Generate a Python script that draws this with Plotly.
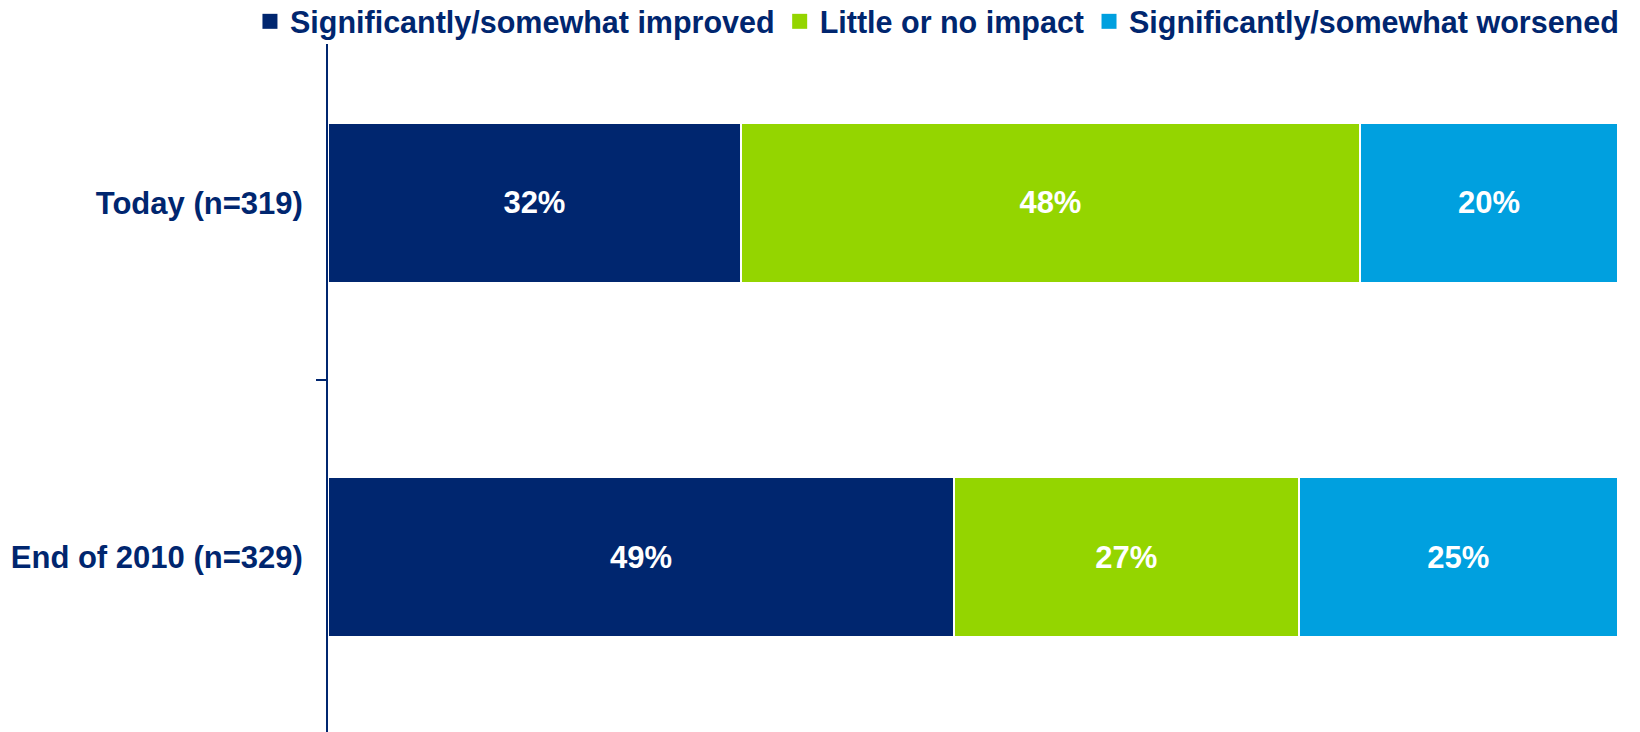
import plotly.graph_objects as go

# Survey responses, share of respondents per period
periods = ["Today (n=319)", "End of 2010 (n=329)"]
series_names = [
    "Significantly/somewhat improved",
    "Little or no impact",
    "Significantly/somewhat worsened",
]
improved = [32, 49]
no_impact = [48, 27]
worsened = [20, 25]

series_values = [improved, no_impact, worsened]
colors = ["#00266F", "#94D500", "#00A0DF"]
navy_text = "#00266F"
font_family = "Liberation Sans, Arial, sans-serif"

fig = go.Figure()

for name, vals, col in zip(series_names, series_values, colors):
    fig.add_trace(go.Bar(
        y=periods,
        x=vals,
        orientation="h",
        name=name,
        marker=dict(color=col, line=dict(color="white", width=2)),
        text=[f"{v}%" for v in vals],
        textposition="inside",
        insidetextanchor="middle",
        textfont=dict(color="white", size=31, family=font_family, weight="bold"),
        textangle=0,
        showlegend=False,
        hoverinfo="skip",
    ))

# legend entries with larger square swatches
for name, col in zip(series_names, colors):
    fig.add_trace(go.Scatter(
        x=[None], y=[None], mode="markers", name=name,
        marker=dict(symbol="square", size=15, color=col),
        showlegend=True,
    ))

fig.update_layout(
    width=1640,
    height=732,
    margin=dict(l=328, r=22, t=44, b=0, pad=0, autoexpand=False),
    paper_bgcolor="white",
    plot_bgcolor="white",
    barmode="stack",
    barnorm="percent",
    bargap=0.548,
    font=dict(family=font_family, size=31, color=navy_text),
    uniformtext=dict(minsize=31, mode="show"),
    legend=dict(
        orientation="h",
        traceorder="normal",
        x=-0.0605, y=1.0327,
        xanchor="left", yanchor="middle",
        font=dict(size=30.5, color=navy_text, family=font_family, weight="bold"),
        bgcolor="rgba(0,0,0,0)",
        itemclick=False,
        tracegroupgap=0,
    ),
    xaxis=dict(
        range=[0, 100],
        visible=False,
        showgrid=False,
        zeroline=False,
    ),
    yaxis=dict(
        type="category",
        categoryorder="array",
        categoryarray=periods,
        range=[1.494, -0.449],
        automargin=False,
        showline=True,
        linecolor=navy_text,
        linewidth=2,
        ticks="outside",
        tickson="boundaries",
        ticklen=10,
        tickwidth=2,
        tickcolor=navy_text,
        showgrid=False,
        zeroline=False,
        tickfont=dict(size=31, color=navy_text, family=font_family, weight="bold"),
        ticklabelstandoff=17,
    ),
)

fig.write_html("out.html")
